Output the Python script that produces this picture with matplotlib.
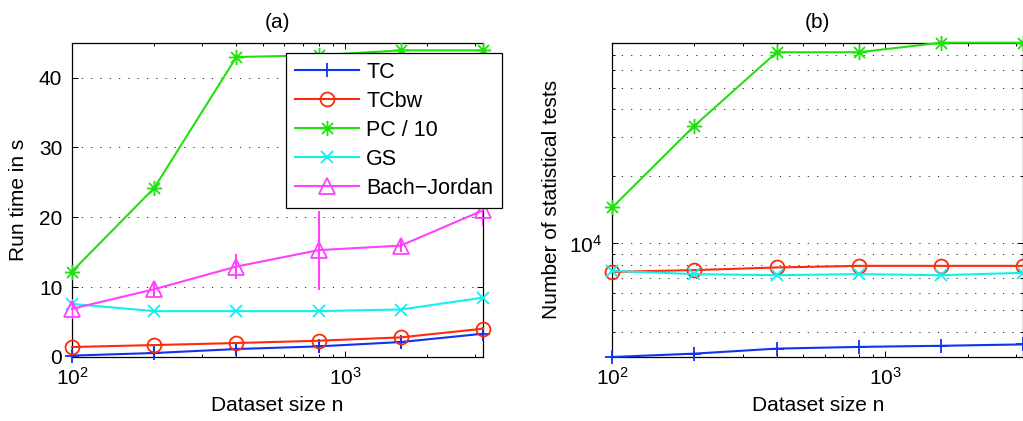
import matplotlib
matplotlib.use('Agg')
import matplotlib.pyplot as plt
from matplotlib.path import Path
from matplotlib.ticker import NullFormatter, LogLocator, MultipleLocator, LogFormatterMathtext

plt.rcParams['font.family'] = ['Liberation Sans', 'DejaVu Sans']
plt.rcParams['mathtext.default'] = 'regular'

# ---------------- data ----------------
n = [100, 200, 400, 800, 1600, 3200]
labels = ['TC', 'TCbw', 'PC / 10', 'GS', 'Bach\u2212Jordan']

# (a) run time in s
time_tc = [0.2, 0.57, 1.14, 1.52, 2.14, 3.33]
time_tc_err = [0.9, 0.9, 0.9, 0.9, 0.9, 0.9]
time_tcbw = [1.43, 1.71, 2.0, 2.33, 2.81, 4.05]
time_pc10 = [12.24, 24.2, 42.95, 43.2, 43.9, 43.9]
time_gs = [7.6, 6.57, 6.57, 6.57, 6.8, 8.5]
time_bj = [6.9, 9.7, 12.95, 15.3, 15.95, 21.0]
time_bj_err = [1.4, 1.1, 1.8, 5.65, 0.85, 2.25]

# (b) number of statistical tests
tests_tc = [3090, 3200, 3370, 3430, 3470, 3520]
tests_tcbw = [7450, 7590, 7800, 7930, 7930, 7930]
tests_pc = [14520, 33800, 72200, 72200, 79700, 79700]
tests_gs = [7530, 7280, 7200, 7280, 7200, 7380]

# ---------------- style ----------------
C_BLUE = '#1232f2'
C_RED = '#ff2a0a'
C_GREEN = '#22e010'
C_CYAN = '#10f0f0'
C_MAG = '#ff40ff'

star = Path([(0, -1), (0, 1), (-1, 0), (1, 0),
             (-0.72, -0.72), (0.72, 0.72), (-0.72, 0.72), (0.72, -0.72)],
            [Path.MOVETO, Path.LINETO] * 4)

FS = 15
LFS = 15.5
LW = 1.5
MEW = 1.3
grid_kw = dict(color='0.1', linestyle=(0, (1.3, 9)), linewidth=0.65)

fig = plt.figure(figsize=(10.23, 4.21), dpi=100)
ax1 = fig.add_axes([0.07038, 0.15202, 0.40176, 0.74656])
ax2 = fig.add_axes([0.59853, 0.15202, 0.40176, 0.74656])


def style_axes(ax):
    ax.set_xscale('log')
    ax.tick_params(which='both', direction='in', top=True, right=True,
                   labelsize=FS, colors='black', width=0.7)
    ax.tick_params(which='major', length=4, pad=7)
    ax.tick_params(which='minor', length=2.2)
    for s in ax.spines.values():
        s.set_linewidth(0.9)
        s.set_color('black')
    ax.xaxis.set_major_formatter(LogFormatterMathtext())
    ax.xaxis.set_minor_formatter(NullFormatter())
    ax.set_xlim(100, 3200)
    ax.set_xlabel('Dataset size n', fontsize=FS)
    ax.xaxis.set_label_coords(0.5, -0.125)


# ---- (a) ----
style_axes(ax1)
ax1.plot(n, time_tc, color=C_BLUE, lw=LW, marker='+', ms=10, mew=MEW, label=labels[0], clip_on=False, zorder=3)
ax1.errorbar(n, time_tc, yerr=time_tc_err, fmt='none', ecolor=C_BLUE, elinewidth=LW, capsize=0, zorder=3)
ax1.plot(n, time_tcbw, color=C_RED, lw=LW, marker='o', ms=10, mfc='none', mew=MEW, label=labels[1], clip_on=False, zorder=4)
ax1.plot(n, time_pc10, color=C_GREEN, lw=LW, marker=star, ms=11, mew=MEW, label=labels[2], clip_on=False, zorder=5)
ax1.plot(n, time_gs, color=C_CYAN, lw=LW, marker='x', ms=8, mew=MEW, label=labels[3], clip_on=False, zorder=6)
ax1.plot(n, time_bj, color=C_MAG, lw=LW, marker='^', ms=11, mfc='none', mew=MEW, label=labels[4], clip_on=False, zorder=7)
ax1.errorbar(n, time_bj, yerr=time_bj_err, fmt='none', ecolor=C_MAG, elinewidth=LW, capsize=0, zorder=7)
ax1.set_ylim(0, 45)
ax1.yaxis.set_major_locator(MultipleLocator(10))
ax1.yaxis.grid(True, which='major', **grid_kw)
ax1.set_axisbelow(True)
ax1.set_ylabel('Run time in s', fontsize=FS)
ax1.yaxis.set_label_coords(-0.107, 0.5)
ax1.set_title('(a)', fontsize=FS, pad=10.5)

leg = ax1.legend(loc='upper left', bbox_to_anchor=(286 / 1023, 1 - 52.7 / 421),
                 bbox_transform=fig.transFigure, borderaxespad=0, fontsize=LFS,
                 numpoints=1, handlelength=2.95, handletextpad=0.35,
                 labelspacing=0.37, borderpad=0.42, fancybox=False,
                 framealpha=1, edgecolor='black')
leg.get_frame().set_linewidth(0.9)
leg.set_zorder(20)

# ---- (b) ----
style_axes(ax2)
ax2.set_yscale('log')
ax2.plot(n, tests_tc, color=C_BLUE, lw=LW, marker='+', ms=10, mew=MEW, clip_on=False, zorder=3)
ax2.plot(n, tests_tcbw, color=C_RED, lw=LW, marker='o', ms=10, mfc='none', mew=MEW, clip_on=False, zorder=4)
ax2.plot(n, tests_pc, color=C_GREEN, lw=LW, marker=star, ms=11, mew=MEW, clip_on=False, zorder=5)
ax2.plot(n, tests_gs, color=C_CYAN, lw=LW, marker='x', ms=8, mew=MEW, clip_on=False, zorder=6)
ax2.set_ylim(3090, 79700)
ax2.yaxis.set_major_locator(LogLocator(base=10))
ax2.yaxis.set_minor_locator(LogLocator(base=10, subs=range(2, 10)))
ax2.yaxis.set_major_formatter(LogFormatterMathtext())
ax2.yaxis.set_minor_formatter(NullFormatter())
ax2.yaxis.grid(True, which='both', **grid_kw)
ax2.set_axisbelow(True)
ax2.set_ylabel('Number of statistical tests', fontsize=FS)
ax2.yaxis.set_label_coords(-0.125, 0.5)
ax2.set_title('(b)', fontsize=FS, pad=10.5)

fig.savefig('out.png', dpi=100)
